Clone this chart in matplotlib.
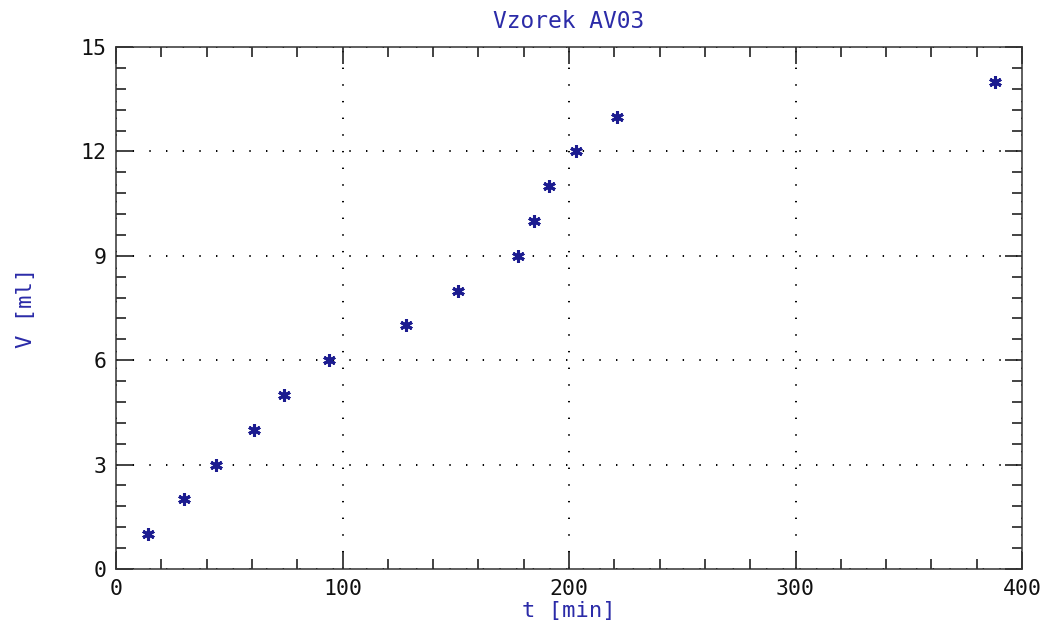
import matplotlib.pyplot as plt
from matplotlib.ticker import MultipleLocator

plt.rcParams['lines.scale_dashes'] = False
plt.rcParams['font.family'] = 'DejaVu Sans Mono'

# odečtené hodnoty: čas [min] a objem [ml]
t_min = [14, 30, 44, 61, 74, 94, 128, 151, 177.5, 184.5, 191, 203, 221, 388]
v_ml = [1, 2, 3, 4, 5, 6, 7, 8, 9, 10, 11, 12, 13, 14]

x_ticks = [0, 100, 200, 300, 400]
y_ticks = [0, 3, 6, 9, 12, 15]

blue = '#2b2ba8'

fig = plt.figure(figsize=(10.48, 6.25), dpi=100)
ax = fig.add_axes([0.1107, 0.0896, 0.8645, 0.8352])

ax.plot(t_min, v_ml, linestyle='none', marker=(6, 2, 0), markersize=9,
        markeredgewidth=2.2, color='#1c1c90')

ax.set_xlim(0, 400)
ax.set_ylim(0, 15)
ax.set_xticks(x_ticks)
ax.set_yticks(y_ticks)
ax.xaxis.set_minor_locator(MultipleLocator(20))
ax.yaxis.set_minor_locator(MultipleLocator(0.6))
ax.tick_params(which='both', direction='in', top=True, right=True,
               width=1.2, color='#222222', labelsize=15.5, labelcolor='#111111')
ax.tick_params(which='major', length=12, pad=7)
ax.tick_params(which='minor', length=7)

ax.grid(True, which='major', color='black', linestyle=(0, (1, 11)), linewidth=1.4)

for s in ax.spines.values():
    s.set_linewidth(1.1)
    s.set_color('#333333')

ax.set_title('Vzorek AV03', color=blue, fontsize=16.5, pad=14)
ax.set_xlabel('t [min]', color=blue, fontsize=16, labelpad=2)
ax.set_ylabel('V [ml]', color=blue, fontsize=16, labelpad=32)

plt.savefig('out.png')
